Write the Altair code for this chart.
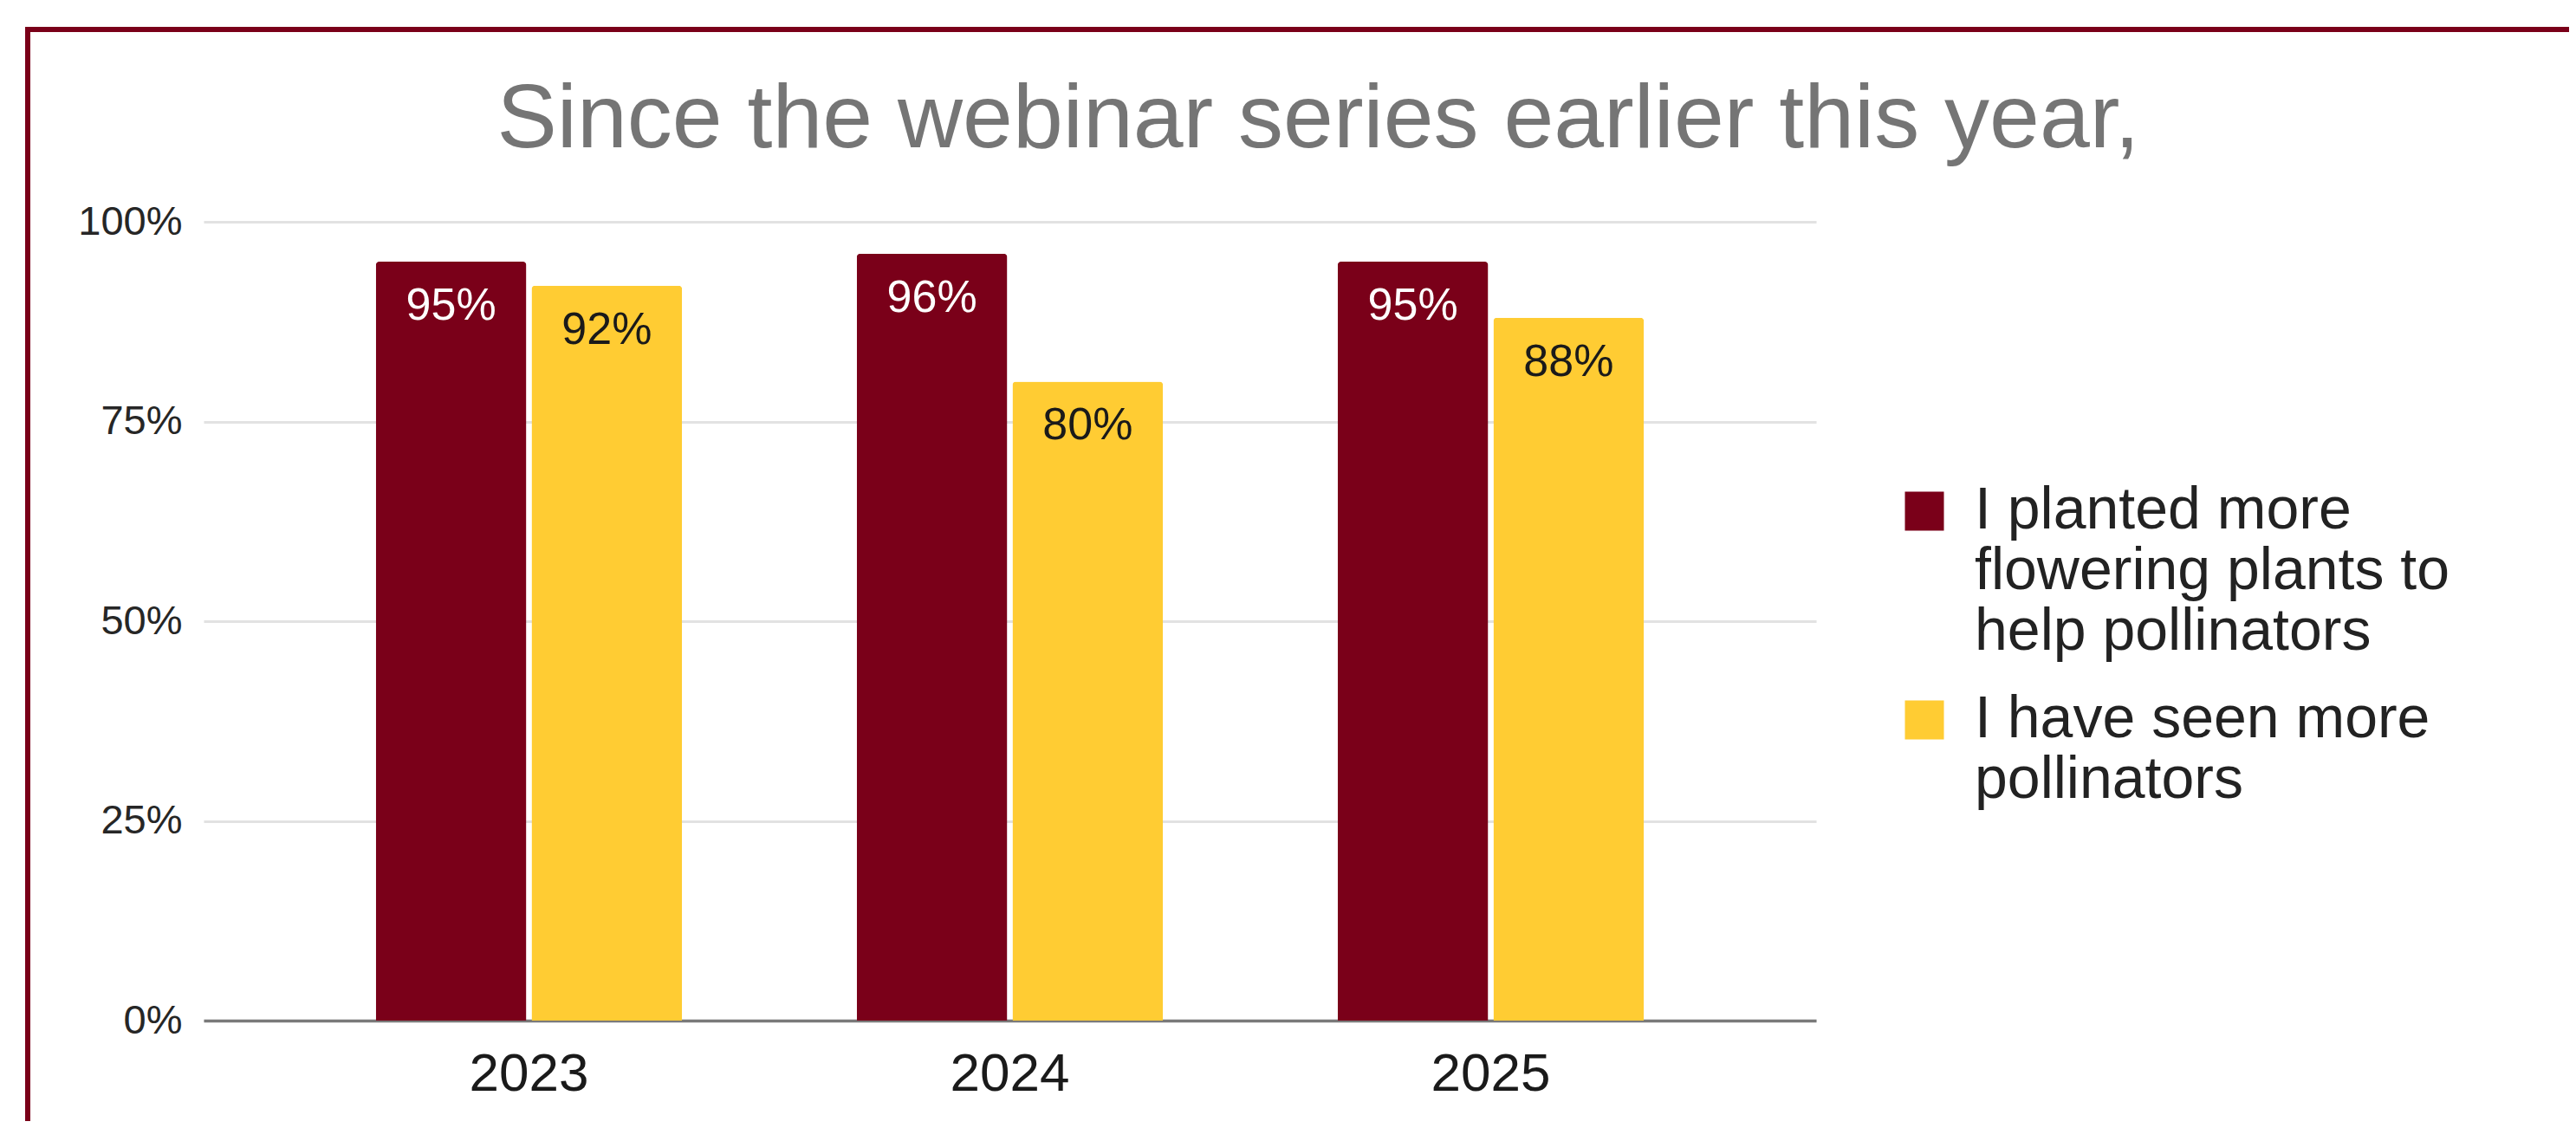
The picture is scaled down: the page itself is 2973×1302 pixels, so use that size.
import json
import altair as alt
import pandas as pd

# ---- data ----
years = ["2023", "2024", "2025"]
series = [
    "I planted more flowering plants to help pollinators",
    "I have seen more pollinators",
]
planted = [95, 96, 95]
seen = [92, 80, 88]
y_ticks = [0, 25, 50, 75, 100]
colors = ["#7a0019", "#ffcc33"]
legend_lines = [
    ["I planted more", "flowering plants to", "help pollinators"],
    ["I have seen more", "pollinators"],
]
title_text = "Since the webinar series earlier this year,"

rows = []
for i, yr in enumerate(years):
    rows.append({"year": yr, "series": series[0], "value": planted[i], "label": f"{planted[i]}%"})
    rows.append({"year": yr, "series": series[1], "value": seen[i], "label": f"{seen[i]}%"})
df = pd.DataFrame(rows)

FONT = "Liberation Sans"

label_expr = (
    f"datum.label == {json.dumps(series[0])} ? {json.dumps(legend_lines[0])} : {json.dumps(legend_lines[1])}"
)

x_enc = alt.X(
    "year:N",
    sort=years,
    scale=alt.Scale(paddingInner=0.363, paddingOuter=0.358),
    axis=alt.Axis(
        title=None, labelAngle=0, labelFontSize=62, labelColor="#1a1a1a", labelFont=FONT,
        labelPadding=31, ticks=False, tickSize=0, domain=True, domainColor="#7a7a7a",
        domainWidth=3.5, grid=False,
    ),
)
xo_enc = alt.XOffset("series:N", sort=series, scale=alt.Scale(paddingInner=0.033, paddingOuter=0))
y_enc = alt.Y(
    "value:Q",
    scale=alt.Scale(domain=[0, 100], nice=False),
    axis=alt.Axis(
        title=None, values=y_ticks, labelExpr="datum.value + '%'", labelFontSize=47,
        labelColor="#262626", labelFont=FONT, labelPadding=25, ticks=False, tickSize=0,
        domain=False, gridColor="#e2e2e2", gridWidth=3,
    ),
)

base = alt.Chart(df)

bars = base.mark_bar(cornerRadiusTopLeft=4, cornerRadiusTopRight=4).encode(
    x=x_enc,
    xOffset=xo_enc,
    y=y_enc,
    color=alt.Color(
        "series:N",
        sort=series,
        scale=alt.Scale(domain=series, range=colors),
        legend=alt.Legend(
            title=None, orient="none", legendX=1952, legendY=300,
            symbolType="square", symbolSize=2025, symbolStrokeWidth=0,
            labelFontSize=68, labelFont=FONT, labelColor="#222222", labelLimit=3000,
            labelOffset=24, rowPadding=33, padding=0, labelExpr=label_expr,
        ),
    ),
)

texts = base.mark_text(baseline="alphabetic", dy=67, fontSize=52, font=FONT).encode(
    x=alt.X("year:N", sort=years),
    xOffset=alt.XOffset("series:N", sort=series),
    y=alt.Y("value:Q"),
    text="label:N",
    color=alt.condition(alt.datum.series == series[0], alt.value("#ffffff"), alt.value("#1a1a1a")),
)

frame = alt.Chart(alt.InlineData(values=[{"f": 1}])).mark_rect(
    fillOpacity=0, stroke="#7a0019", strokeWidth=6
).encode(
    x=alt.value(-203), x2=alt.value(2780), y=alt.value(-222), y2=alt.value(1100)
)

chart = alt.layer(frame, bars, texts).properties(
    width=1861,
    height=922,
    autosize=alt.AutoSizeParams(type="none"),
    padding={"left": 227, "top": 248, "right": 869, "bottom": 116},
    background="white",
    title=alt.Title(
        text=title_text, fontSize=104, color="#757575", font=FONT, fontWeight="normal",
        anchor="middle", dx=356, offset=-243, baseline="alphabetic",
    ),
).configure_view(stroke=None)

chart.save("out.html", embed_options={"renderer": "svg", "actions": False})
